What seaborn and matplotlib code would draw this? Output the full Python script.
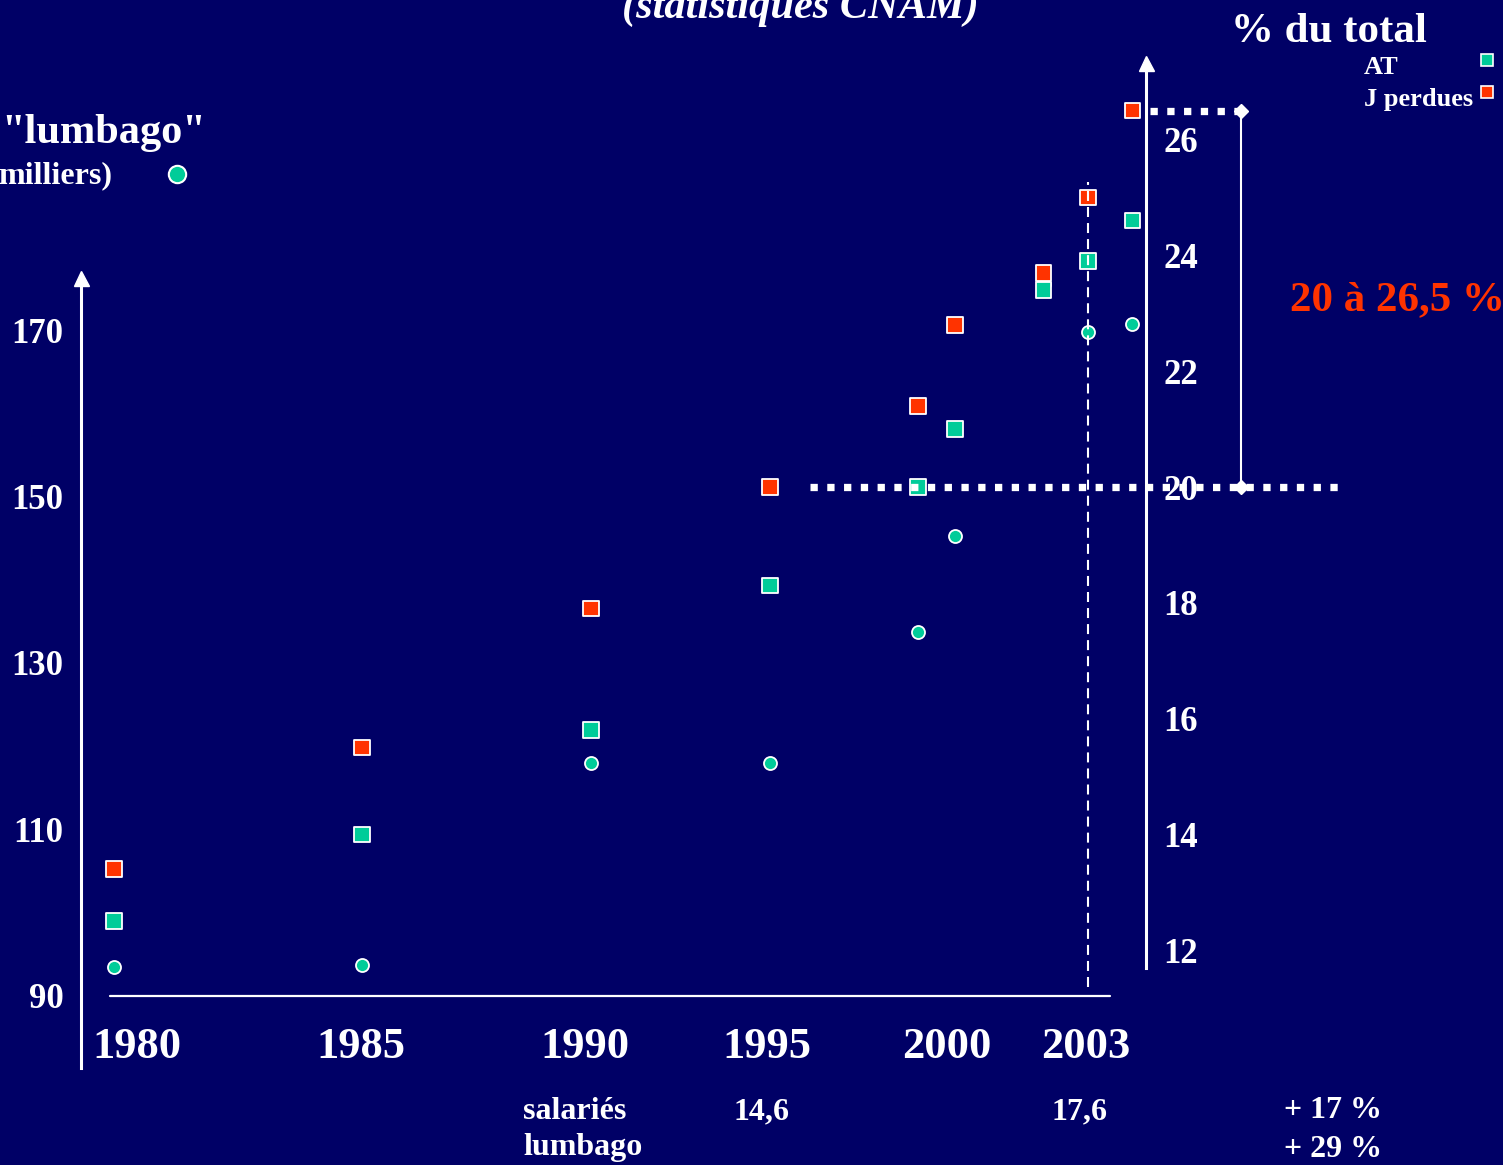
import numpy as np
import pandas as pd
import matplotlib
matplotlib.use("Agg")
import matplotlib.pyplot as plt
from matplotlib.lines import Line2D
import seaborn as sns

# ---- data -------------------------------------------------------------
years = [1980, 1985, 1990, 1995, 1999, 2000, 2002, 2003, 2004]
lumbago_milliers = [93.5, 93.7, 118.0, 118.0, 133.7, 145.3, 175.5, 169.8, 170.7]
part_at = [12.5, 14.0, 15.8, 18.3, 20.0, 21.0, 23.4, 23.9, 24.6]
part_j_perdues = [13.4, 15.5, 17.9, 20.0, 21.4, 22.8, 23.7, 25.0, 26.5]

left_ticks = [90, 110, 130, 150, 170]
right_ticks = [12, 14, 16, 18, 20, 22, 24, 26]
year_labels = ["1980", "1985", "1990", "1995", "2000", "2003"]
series_names = ["AT", "J perdues"]
range_low, range_high = 20.0, 26.5
salaries_values = ["14,6", "17,6"]
growth_labels = ["+ 17 %", "+ 29 %"]

# ---- style ------------------------------------------------------------
W, H, DPI = 1503, 1165, 100
NAVY = "#000066"
TEAL = "#00CC99"
RED = "#FF3300"
WHITE = "white"

sns.set_style("white")
plt.rcParams["font.family"] = ["Liberation Serif", "DejaVu Serif"]
plt.rcParams["font.weight"] = "bold"

fig = plt.figure(figsize=(W / DPI, H / DPI), dpi=DPI, facecolor=NAVY)
ax = fig.add_axes([0, 0, 1, 1])
ax.set_facecolor(NAVY)


def fx(px):
    return px / W


def fy(py):
    return 1 - py / H


# piecewise time axis: the slide spaces its years unevenly
AXIS_YEARS = np.array([1980, 1985, 1990, 1995, 2000, 2003], float)
AXIS_PX = np.array([114, 362, 591, 770, 955, 1088], float)


def _piecewise(v, xs, ys):
    v = np.asarray(v, float)
    out = np.interp(v, xs, ys)
    lo_slope = (ys[1] - ys[0]) / (xs[1] - xs[0])
    hi_slope = (ys[-1] - ys[-2]) / (xs[-1] - xs[-2])
    out = np.where(v < xs[0], ys[0] + (v - xs[0]) * lo_slope, out)
    out = np.where(v > xs[-1], ys[-1] + (v - xs[-1]) * hi_slope, out)
    return out


def fwd(v):
    return _piecewise(v, AXIS_YEARS, AXIS_PX)


def inv(p):
    return _piecewise(p, AXIS_PX, AXIS_YEARS)


ax.set_xscale("function", functions=(fwd, inv))
ax.set_xlim(float(inv(0.0)), float(inv(W)))

# left scale: thousands of cases
L0, L0_PX, L_PPU = 90.0, 996.0, 8.325
ax.set_ylim(L0 - (H - L0_PX) / L_PPU, L0 + L0_PX / L_PPU)

ax2 = ax.twinx()
# right scale: share of total (%)
R0, R0_PX, R_PPU = 20.0, 487.0, 57.9
ax2.set_ylim(R0 - (H - R0_PX) / R_PPU, R0 + R0_PX / R_PPU)
ax2.set_xlim(ax.get_xlim())


def lval(py):
    return L0 + (L0_PX - py) / L_PPU


def rval(py):
    return R0 + (R0_PX - py) / R_PPU


# ---- spines / ticks ---------------------------------------------------
for a in (ax, ax2):
    for s in a.spines.values():
        s.set_visible(False)
    a.set_xticks([])
    a.grid(False)

ax.spines["left"].set_visible(True)
ax.spines["left"].set_position(("axes", fx(81)))
ax.spines["left"].set_bounds(lval(1068), lval(280))
ax.spines["left"].set_color(WHITE)
ax.spines["left"].set_linewidth(2.2)
ax.set_yticks(left_ticks)
ax.set_yticklabels([str(t) for t in left_ticks])
ax.tick_params(axis="y", length=0, pad=12.5, labelsize=25, labelcolor=WHITE)

ax2.spines["right"].set_visible(True)
ax2.spines["right"].set_position(("axes", fx(1146)))
ax2.spines["right"].set_bounds(rval(968), rval(66))
ax2.spines["right"].set_color(WHITE)
ax2.spines["right"].set_linewidth(2.2)
ax2.set_yticks(right_ticks)
ax2.set_yticklabels([str(t) for t in right_ticks])
ax2.tick_params(axis="y", length=0, pad=12.5, labelsize=25, labelcolor=WHITE)
for lab in ax.get_yticklabels() + ax2.get_yticklabels():
    lab.set_fontweight("bold")

# arrow heads on both vertical axes
for px, tip in ((81, 270), (1146, 55)):
    fig.add_artist(Line2D([fx(px)], [fy(tip + 7.5)], transform=fig.transFigure,
                          marker="^", ms=10.8, color=WHITE, ls=""))

# baseline of the left scale
ax.plot([fx(110), fx(1110)], [L0, L0], transform=ax.get_yaxis_transform(),
        color=WHITE, lw=1.6, zorder=1)

# ---- marks ------------------------------------------------------------
sns.scatterplot(x=years, y=lumbago_milliers, ax=ax, marker="o", s=88,
                color=TEAL, edgecolor=WHITE, linewidth=1.3, zorder=3, legend=False)

pct = pd.DataFrame({
    "annee": years * 2,
    "part": part_at + part_j_perdues,
    "serie": [series_names[0]] * len(years) + [series_names[1]] * len(years),
})
palette = {series_names[0]: TEAL, series_names[1]: RED}
sns.scatterplot(data=pct, x="annee", y="part", hue="serie", palette=palette,
                marker="s", s=125, edgecolor=WHITE, linewidth=1.3, ax=ax2,
                zorder=3, legend=False)
for a in (ax, ax2):
    a.set_xlabel("")
    a.set_ylabel("")

# reference lines
ax2.axvline(2003, ymin=fy(987), ymax=fy(182), color=WHITE, lw=1.5,
            ls=(0, (4.8, 2.9)), zorder=5)
dot_style = dict(color=WHITE, lw=5.25, ls=(0, (1, 1.3)), solid_capstyle="butt",
                 dash_capstyle="butt", zorder=6)
ytr = ax2.get_yaxis_transform()
ax2.plot([fx(810), fx(1345)], [range_low, range_low], transform=ytr, **dot_style)
ax2.plot([fx(1150), fx(1248)], [range_high, range_high], transform=ytr, **dot_style)
ax2.plot([fx(1241), fx(1241)], [range_low, range_high], transform=ytr,
         color=WHITE, lw=1.5, marker="D", ms=7.5, zorder=7)

# ---- legends ----------------------------------------------------------
txt = dict(color=WHITE, fontweight="bold", family=["Liberation Serif", "DejaVu Serif"])
for name, baseline, marker_y in zip(series_names, [74, 106], [60, 92]):
    fig.text(fx(1364), fy(baseline), name, ha="left", va="baseline", fontsize=19, **txt)
    fig.add_artist(Line2D([fx(1487)], [fy(marker_y)], transform=fig.transFigure,
                          marker="s", ls="", ms=8, mfc=palette[name], mec=WHITE, mew=1.2))

fig.add_artist(Line2D([fx(177)], [fy(174)], transform=fig.transFigure, marker="o",
                      ms=12.5, mfc=TEAL, mec=WHITE, mew=1.5, ls=""))

# ---- texts ------------------------------------------------------------
fig.text(fx(800), fy(18), "(statistiques CNAM)", ha="center", va="baseline",
         fontsize=30.5, style="italic", **txt)
fig.text(fx(206), fy(143), '"lumbago"', ha="right", va="baseline", fontsize=30.5, **txt)
fig.text(fx(112), fy(183), "milliers)", ha="right", va="baseline", fontsize=23, **txt)
fig.text(fx(1231), fy(42), "% du total", ha="left", va="baseline", fontsize=31, **txt)
fig.text(fx(1290), fy(310), f"{range_low:.0f} à {range_high:.1f} %".replace(".", ","),
         ha="left", va="baseline", fontsize=31, color=RED, fontweight="bold",
         family=["Liberation Serif", "DejaVu Serif"])

year_label_px = [137, 361, 585, 767, 947, 1086]
for lab, px in zip(year_labels, year_label_px):
    fig.text(fx(px), fy(1058), lab, ha="center", va="baseline", fontsize=32, **txt)

fig.text(fx(523), fy(1119), "salariés", ha="left", va="baseline", fontsize=23, **txt)
fig.text(fx(523), fy(1155), "lumbago", ha="left", va="baseline", fontsize=23, **txt)
for val, px in zip(salaries_values, [733, 1052]):
    fig.text(fx(px), fy(1119), val, ha="left", va="baseline", fontsize=23, **txt)
for lab, py in zip(growth_labels, [1118, 1157]):
    fig.text(fx(1284), fy(py), lab, ha="left", va="baseline", fontsize=23, **txt)

fig.savefig("out.png", dpi=DPI, facecolor=NAVY)
